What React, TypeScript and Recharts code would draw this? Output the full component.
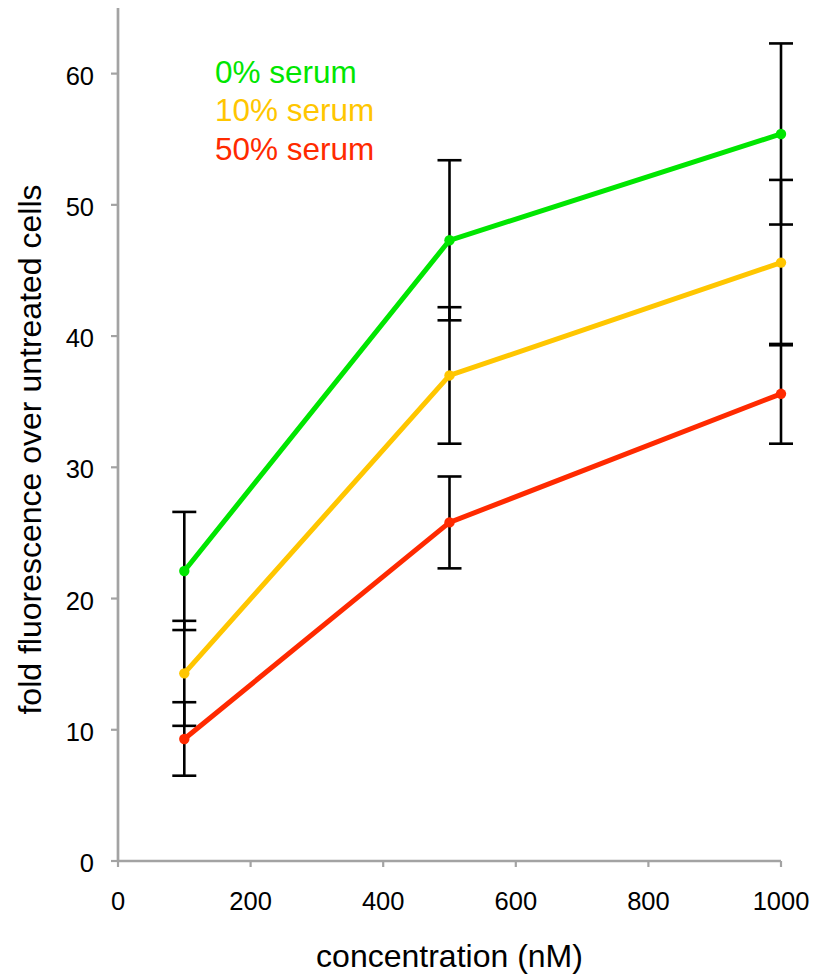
import { LineChart, Line, XAxis, YAxis, ErrorBar, Label, Legend } from 'recharts';

const concentrations = [100, 500, 1000];
const serum0 = [22.1, 47.3, 55.4];
const serum0Err = [4.5, 6.1, 6.9];
const serum10 = [14.3, 37.0, 45.6];
const serum10Err = [4.0, 5.2, 6.3];
const serum50 = [9.3, 25.8, 35.6];
const serum50Err = [2.8, 3.5, 3.8];

const xTicks = [0, 200, 400, 600, 800, 1000];
const yTicks = [0, 10, 20, 30, 40, 50, 60];

const data = concentrations.map((c, i) => ({
  conc: c,
  s0: serum0[i],
  s0Err: serum0Err[i],
  s10: serum10[i],
  s10Err: serum10Err[i],
  s50: serum50[i],
  s50Err: serum50Err[i],
}));

const FONT = '"Liberation Sans", Arial, Helvetica, sans-serif';
const AXIS_GREY = '#a3a3a3';

const series = [
  { key: 's0', err: 's0Err', name: '0% serum', color: '#00e600' },
  { key: 's10', err: 's10Err', name: '10% serum', color: '#ffc600' },
  { key: 's50', err: 's50Err', name: '50% serum', color: '#ff2a00' },
];

const YTitle = (props: any) => {
  const vb = props.viewBox;
  const cx = vb.x + 30;
  const cy = vb.y + vb.height / 2 + 15;
  return (
    <text
      x={cx}
      y={cy}
      dy={11}
      transform={`rotate(-90 ${cx} ${cy})`}
      textAnchor="middle"
      fontSize={32}
      fill="#000"
      fontFamily={FONT}
    >
      fold fluorescence over untreated cells
    </text>
  );
};

const renderLegend = (props: any) => (
  <div style={{ fontFamily: FONT, fontSize: 31.5, lineHeight: '38.3px' }}>
    {props.payload.map((p: any) => (
      <div key={p.value} style={{ color: p.color, whiteSpace: 'nowrap' }}>
        {p.value}
      </div>
    ))}
  </div>
);

const App = () => {
  return (
    <div style={{ position: 'absolute', left: 0, top: 0 }}>
      <LineChart
        width={814}
        height={974}
        data={data}
        margin={{ top: 8, right: 33, bottom: 0, left: 0 }}
        style={{ fontFamily: FONT }}
      >
        <XAxis
          type="number"
          dataKey="conc"
          domain={[0, 1000]}
          ticks={xTicks}
          height={113}
          axisLine={{ stroke: AXIS_GREY, strokeWidth: 2.7 }}
          tickLine={{ stroke: AXIS_GREY, strokeWidth: 2.2 }}
          tickSize={6}
          tickMargin={25}
          tick={{ fill: '#000', fontSize: 25.5 }}
          interval={0}
        >
          <Label
            value="concentration (nM)"
            position="insideBottom"
            offset={7}
            fill="#000"
            fontSize={32}
          />
        </XAxis>
        <YAxis
          type="number"
          domain={[0, 65]}
          ticks={yTicks}
          width={118}
          axisLine={{ stroke: AXIS_GREY, strokeWidth: 2.7 }}
          tickLine={{ stroke: AXIS_GREY, strokeWidth: 2.2 }}
          tickSize={7}
          tickMargin={17}
          tick={{ fill: '#000', fontSize: 25.5, dy: 2 }}
          interval={0}
        >
          <Label content={YTitle} />
        </YAxis>
        <Legend
          layout="vertical"
          align="center"
          verticalAlign="middle"
          content={renderLegend}
          wrapperStyle={{ left: 215, top: 53, width: 260 }}
        />
        {series.map((s) => (
          <Line
            key={s.key}
            type="linear"
            dataKey={s.key}
            name={s.name}
            stroke={s.color}
            strokeWidth={5}
            dot={{ r: 5.2, fill: s.color, stroke: s.color, strokeWidth: 0 }}
            activeDot={false}
            isAnimationActive={false}
          >
            <ErrorBar
              dataKey={s.err}
              direction="y"
              width={12}
              strokeWidth={2.6}
              stroke="#000"
            />
          </Line>
        ))}
      </LineChart>
    </div>
  );
};

export default App;
